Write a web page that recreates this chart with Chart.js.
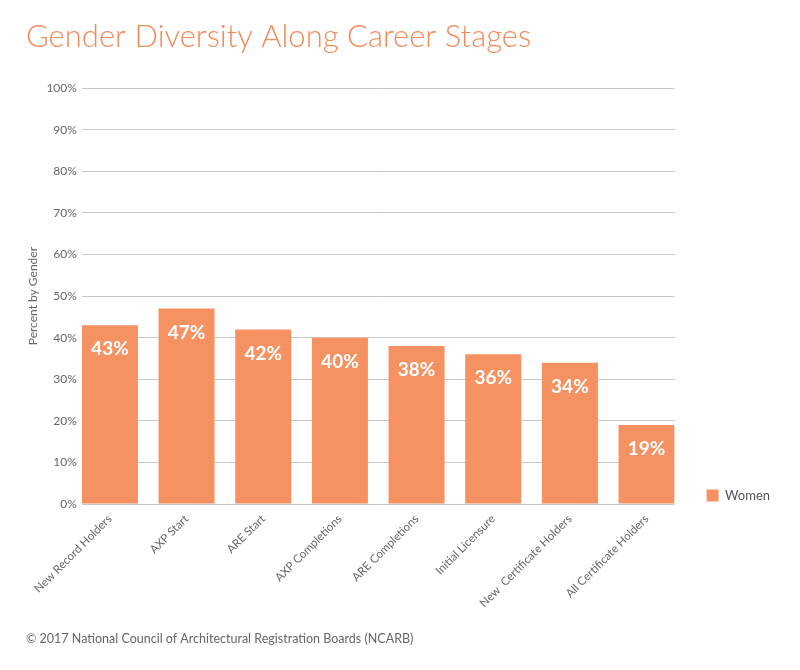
<!DOCTYPE html>
<html>
<head>
<meta charset="utf-8">
<script src="https://cdn.jsdelivr.net/npm/chart.js@4/dist/chart.umd.min.js"></script>
<style>
  html, body { margin: 0; padding: 0; background: #ffffff; }
  #wrap { width: 800px; height: 670px; position: relative; }
</style>
</head>
<body>
<div id="wrap"><canvas id="c" width="800" height="670"></canvas></div>
<script>
const categories = [
  'New Record Holders', 'AXP Start', 'ARE Start', 'AXP Completions',
  'ARE Completions', 'Initial Licensure', 'New  Certificate Holders', 'All Certificate Holders'
];
const womenValues = [43, 47, 42, 40, 38, 36, 34, 19];
const yTickValues = [0, 10, 20, 30, 40, 50, 60, 70, 80, 90, 100];
const seriesName = 'Women';
const chartTitle = 'Gender Diversity Along Career Stages';
const yAxisTitle = 'Percent by Gender';
const footerText = '\u00A9 2017 National Council of Architectural Registration Boards (NCARB)';

const ORANGE = '#F69262';
const TITLE_ORANGE = '#F28A5A';
const GREY_TEXT = '#666666';
const FONT = 'Lato, "Open Sans", sans-serif';
const BAR_FRACTION = 0.731;

const points = categories.map((c, i) => ({ x: i, y: womenValues[i] }));

const valueLabels = {
  id: 'valueLabels',
  afterDatasetsDraw(chart) {
    const ctx = chart.ctx;
    const meta = chart.getDatasetMeta(0);
    ctx.save();
    ctx.fillStyle = '#ffffff';
    ctx.font = 'bold 19px ' + FONT;
    ctx.textAlign = 'center';
    ctx.textBaseline = 'middle';
    meta.data.forEach((el, i) => {
      ctx.fillText(womenValues[i] + '%', el.x, el.y + 24);
    });
    ctx.restore();
  }
};

new Chart(document.getElementById('c'), {
  type: 'bar',
  data: {
    datasets: [{
      label: seriesName,
      data: points,
      backgroundColor: ORANGE,
      borderWidth: 0,
      categoryPercentage: 1.0,
      barPercentage: BAR_FRACTION
    }]
  },
  options: {
    responsive: false,
    animation: false,
    devicePixelRatio: 1,
    layout: { padding: { left: 26, right: 20, top: 18, bottom: 24 } },
    plugins: {
      title: {
        display: true,
        text: chartTitle,
        align: 'start',
        color: TITLE_ORANGE,
        font: { family: FONT, size: 31, weight: '300' },
        padding: { top: 0, bottom: 33 }
      },
      subtitle: {
        display: true,
        text: footerText,
        position: 'bottom',
        align: 'start',
        color: GREY_TEXT,
        font: { family: FONT, size: 12.5, weight: '400' },
        padding: { top: 13, bottom: 0 }
      },
      legend: {
        display: true,
        position: 'right',
        align: 'end',
        fullSize: false,
        labels: {
          boxWidth: 12,
          boxHeight: 12,
          color: '#555555',
          font: { family: FONT, size: 13 },
          padding: 2
        }
      },
      tooltip: { enabled: false }
    },
    scales: {
      x: {
        type: 'linear',
        offset: false,
        min: -BAR_FRACTION / 2,
        max: categories.length - 1 + BAR_FRACTION / 2,
        grid: { display: false, drawTicks: false },
        border: { display: false },
        ticks: {
          stepSize: 1,
          includeBounds: false,
          color: GREY_TEXT,
          font: { family: FONT, size: 11.5 },
          maxRotation: 45,
          minRotation: 45,
          autoSkip: false,
          padding: 8,
          callback: v => (Number.isInteger(v) && categories[v] !== undefined) ? categories[v] : ''
        }
      },
      y: {
        min: yTickValues[0],
        max: yTickValues[yTickValues.length - 1],
        grid: { color: '#c8c8c8', lineWidth: 1, drawTicks: false },
        border: { display: false },
        ticks: {
          stepSize: yTickValues[1] - yTickValues[0],
          color: GREY_TEXT,
          font: { family: FONT, size: 12 },
          padding: 5,
          callback: v => v + '%'
        },
        title: {
          display: true,
          text: yAxisTitle,
          color: GREY_TEXT,
          font: { family: FONT, size: 12 },
          padding: { top: 0, bottom: 1 }
        }
      },
      gap: {
        type: 'linear',
        position: 'right',
        display: true,
        grid: { display: false, drawTicks: false },
        border: { display: false },
        ticks: { display: false },
        afterFit: s => { s.width = 30; }
      }
    }
  },
  plugins: [valueLabels]
});
</script>
</body>
</html>
